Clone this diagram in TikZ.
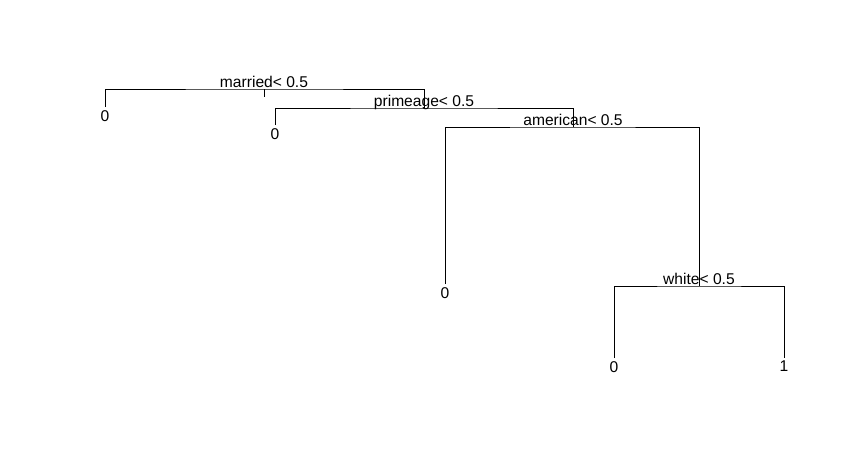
\documentclass[tikz,border=0pt]{standalone}
\usepackage{fontspec}
\setmainfont{Liberation Sans}

\tikzset{
  branch/.style={line width=0.8pt, black},
  splitlab/.style={anchor=base, inner sep=0pt, font=\fontsize{15.6}{18}\selectfont},
  leaf/.style={anchor=north, inner xsep=0pt, inner ysep=3pt, font=\fontsize{15.6}{18}\selectfont}
}

\begin{document}
\begin{tikzpicture}[x=1pt, y=-1pt]
    % Canvas (pixel units, y pointing down)
    \useasboundingbox (0,0) rectangle (852,469);

    % Split points
    \coordinate (married) at (264,89);
    \coordinate (primeage) at (424,108);
    \coordinate (american) at (573,127);
    \coordinate (white) at (699,286);
    \coordinate (rootstub) at (264,97);

    % Leaves
    \node[leaf] (leafa) at (105,107) {0};
    \node[leaf] (leafb) at (275,125) {0};
    \node[leaf] (leafc) at (445,284) {0};
    \node[leaf] (leafd) at (614,358) {0};
    \node[leaf] (leafe) at (784,358) {1};

    % Branches
    \draw[branch] (married) -- (rootstub);
    \draw[branch] (leafa.north) |- (married) -| (primeage);
    \draw[branch] (leafb.north) |- (primeage) -| (american);
    \draw[branch] (leafc.north) |- (american) -| (white);
    \draw[branch] (leafd.north) |- (white) -| (leafe.north);

    % Split labels
    \node[splitlab] (marriedlab) at (264,87) {married< 0.5};
    \node[splitlab] (primeagelab) at (424,106) {primeage< 0.5};
    \node[splitlab] (americanlab) at (573,125) {american< 0.5};
    \node[splitlab] (whitelab) at (699,284) {white< 0.5};
\end{tikzpicture}
\end{document}
